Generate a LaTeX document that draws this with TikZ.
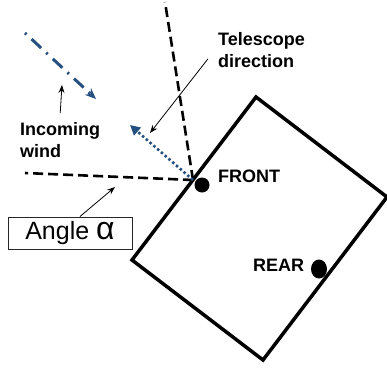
\documentclass[tikz,border=0pt]{standalone}
\usepackage{fontspec}
\setmainfont{Liberation Sans}
\usetikzlibrary{positioning,calc,arrows.meta,shapes.geometric}
\definecolor{windblue}{RGB}{38,80,128}

\begin{document}
\begin{tikzpicture}[x=1pt,y=-1pt,
    lbl/.style={font=\fontsize{18}{22}\selectfont\bfseries,align=left,inner sep=0pt},
    guide/.style={line width=2.6pt,dash pattern=on 10pt off 5pt},
    pointer/.style={-{Stealth[length=8pt,width=6pt]},line width=0.8pt}]
\useasboundingbox (0,0) rectangle (387,367);
\draw[line width=3.5pt,line join=miter] (256,97) -- (387,197) -- (263,360) -- (132,260) -- cycle;
\coordinate (apex) at (193,180);
\coordinate (up) at (165,2);
\coordinate (left) at (25,173);
\draw[guide] (apex) -- (up);
\draw[guide] (apex) -- (left);
\coordinate (telehead) at (130,125);
\draw[windblue,line width=2.6pt,dash pattern=on 2.5pt off 2.5pt,-{Triangle[length=10pt,width=10pt]}] (apex) -- (telehead);
\coordinate (windtail) at (25,33);
\coordinate (windhead) at (96,99);
\draw[windblue,line width=3pt,dash pattern=on 2pt off 7pt on 13pt off 7pt,-{Stealth[length=11pt,width=9pt]}] (windtail) -- (windhead);
\node (front) at (202,185) [circle,fill,minimum size=15pt,inner sep=0pt] {};
\node (rear) at (319,269) [ellipse,fill,minimum width=16pt,minimum height=19pt,inner sep=0pt] {};
\node (frontlbl) at (218,176) [lbl,anchor=west] {FRONT};
\node (rearlbl) at (253,265) [lbl,anchor=west] {REAR};
\node (tele) at (218,32) [lbl,anchor=north west] {Telescope\\direction};
\node (wind) at (20,122) [lbl,anchor=north west] {Incoming\\wind};
\node (angle) at (70,233) [draw=black!85,line width=1pt,minimum width=124pt,minimum height=32pt,inner sep=0pt,font=\fontsize{25}{25}\selectfont] {Angle {\fontsize{32}{32}\selectfont α}};
\coordinate (telept) at (150,133);
\coordinate (windpt) at (62,85);
\coordinate (anglept) at (115,187);
\draw[pointer] ($(tele.west)+(-10,9)$) -- (telept);
\draw[pointer] ([yshift=9pt]wind.north) -- (windpt);
\draw[pointer] ([xshift=10pt]angle.north) -- (anglept);
\end{tikzpicture}
\end{document}
